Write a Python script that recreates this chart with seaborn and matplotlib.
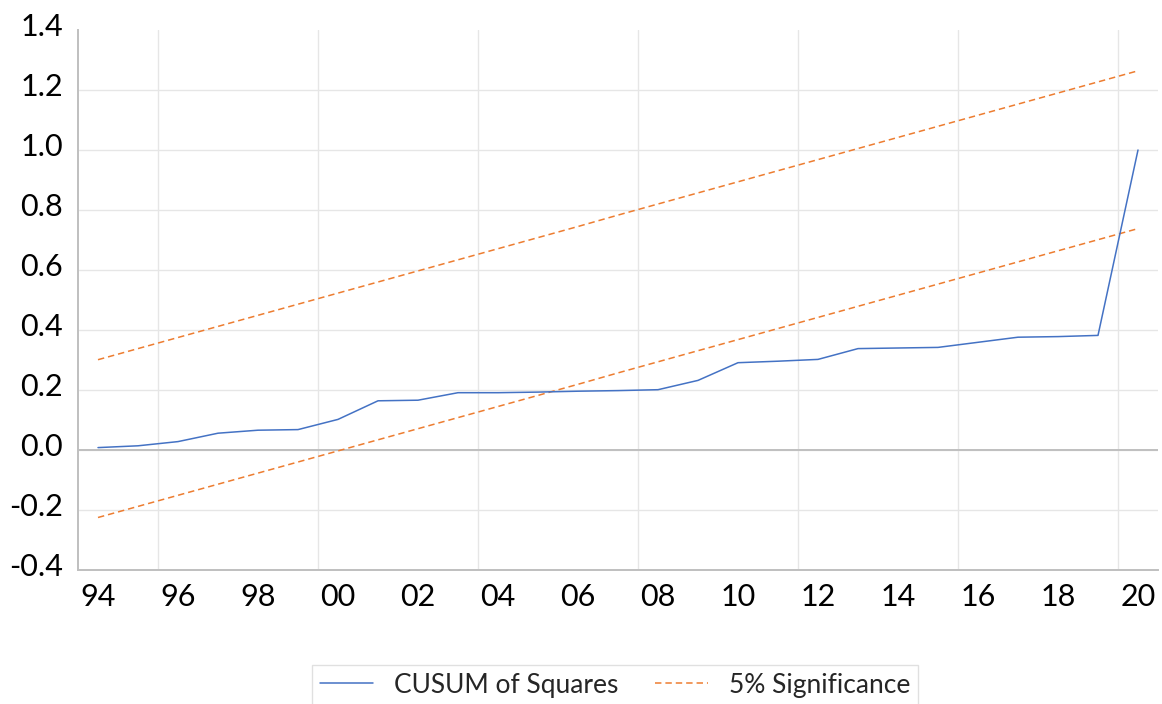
import matplotlib
matplotlib.use("Agg")
import matplotlib.pyplot as plt
from matplotlib.transforms import ScaledTranslation
import seaborn as sns
import pandas as pd

years = list(range(1994, 2021))
cusum_sq = [0.008, 0.014, 0.028, 0.056, 0.066, 0.068, 0.102, 0.164, 0.166, 0.191,
            0.191, 0.193, 0.196, 0.198, 0.201, 0.232, 0.291, 0.296, 0.302, 0.338,
            0.340, 0.342, 0.359, 0.376, 0.378, 0.382, 1.000]
upper = [0.301, 0.338, 0.375, 0.412, 0.449, 0.486, 0.523, 0.560, 0.597, 0.634,
         0.671, 0.708, 0.745, 0.783, 0.820, 0.857, 0.894, 0.931, 0.968, 1.005,
         1.042, 1.079, 1.116, 1.153, 1.190, 1.227, 1.264]
lower = [-0.225, -0.188, -0.151, -0.114, -0.077, -0.040, -0.003, 0.034, 0.071, 0.108,
         0.145, 0.182, 0.219, 0.257, 0.294, 0.331, 0.368, 0.405, 0.442, 0.479,
         0.516, 0.553, 0.590, 0.627, 0.664, 0.701, 0.738]
tick_years = list(range(1994, 2021, 2))
tick_labels = ["94", "96", "98", "00", "02", "04", "06", "08", "10", "12", "14", "16", "18", "20"]
y_ticks = [-0.4, -0.2, 0.0, 0.2, 0.4, 0.6, 0.8, 1.0, 1.2, 1.4]

df = pd.DataFrame({"year": years, "cusum": cusum_sq, "upper": upper, "lower": lower})

sns.set_theme(style="white")
plt.rcParams["font.family"] = ["Lato", "DejaVu Sans"]

fig = plt.figure(figsize=(11.62, 7.04), dpi=100)
ax = fig.add_axes([78 / 1162, (704 - 570) / 704, 1080 / 1162, 540 / 704])

blue = "#4472C4"
orange = "#ED7D31"

sns.lineplot(data=df, x="year", y="cusum", ax=ax, color=blue, linewidth=1.1,
             label="CUSUM of Squares", zorder=4)
sns.lineplot(data=df, x="year", y="upper", ax=ax, color=orange, linewidth=1.1,
             label="5% Significance", zorder=3)
sns.lineplot(data=df, x="year", y="lower", ax=ax, color=orange, linewidth=1.1,
             label="_nolegend_", zorder=3)
for ln in ax.get_lines()[1:3]:
    ln.set_dashes((4.2, 2.6))

ax.set_xlim(1993.5, 2020.5)
ax.set_ylim(-0.4, 1.4)
ax.set_xticks(tick_years)
ax.set_xticklabels(tick_labels)
ax.set_yticks(y_ticks)
ax.set_yticklabels([f"{v:.1f}" for v in y_ticks])
ax.set_xticks([y + 0.5 for y in range(1995, 2020, 4)], minor=True)
ax.set_xlabel("")
ax.set_ylabel("")

ax.tick_params(axis="both", which="both", length=0, labelsize=22, colors="black")
ax.tick_params(axis="x", pad=9)
ax.tick_params(axis="y", pad=11)
shift = ScaledTranslation(0, 6 / 100, fig.dpi_scale_trans)
for lab in ax.get_yticklabels():
    lab.set_transform(lab.get_transform() + shift)

ax.yaxis.grid(True, color="#E6E6E6", linewidth=1.0)
ax.xaxis.grid(True, which="minor", color="#E6E6E6", linewidth=1.0)
ax.xaxis.grid(False, which="major")
ax.get_ygridlines()[-1].set_visible(False)
ax.axhline(0.0, color="#BFBFBF", linewidth=1.4, zorder=2)

for s in ["top", "right"]:
    ax.spines[s].set_visible(False)
for s in ["left", "bottom"]:
    ax.spines[s].set_color("#BFBFBF")
    ax.spines[s].set_linewidth(1.4)

handles, labels = ax.get_legend_handles_labels()
ax.get_legend().remove()
leg = fig.legend(handles, labels, loc="center", bbox_to_anchor=(615 / 1162, 1 - 685 / 704),
                 ncol=2, fontsize=19, frameon=True, fancybox=False, handlelength=2.0,
                 handletextpad=0.8, columnspacing=1.4, borderpad=0.3)
leg.get_frame().set_edgecolor("#D9D9D9")
leg.get_frame().set_linewidth(1.0)

fig.savefig("out.png", dpi=100)
